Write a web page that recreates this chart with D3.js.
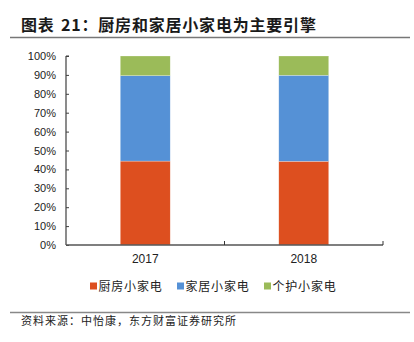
<!DOCTYPE html>
<html>
<head>
<meta charset="utf-8">
<script src="https://cdn.jsdelivr.net/npm/d3@7"></script>
<style>
  html, body { margin: 0; padding: 0; background: #fff; }
  svg { display: block; }
</style>
</head>
<body>
<script>
// Share of small appliance sales by segment
const years = ["2017", "2018"];
const seriesNames = ["厨房小家电", "家居小家电", "个护小家电"];
const kitchen = [44.4, 44.3];
const home = [45.2, 45.5];
const personal = [10.4, 10.2];
const yTicks = [0, 10, 20, 30, 40, 50, 60, 70, 80, 90, 100];
const colors = ["#dd4f1f", "#5591d6", "#9bbb59"];

const W = 414, H = 342;
const svg = d3.select("body").append("svg").attr("width", W).attr("height", H);

// Title and rules
svg.append("text")
  .attr("x", 21).attr("y", 31)
  .attr("font-family", "Noto Sans CJK SC")
  .attr("font-weight", "bold")
  .attr("font-size", 16)
  .attr("letter-spacing", 0.8)
  .attr("word-spacing", 2)
  .attr("fill", "#1a1a1a")
  .text("图表 21：厨房和家居小家电为主要引擎");
svg.append("line").attr("x1", 10).attr("x2", 410).attr("y1", 37.5).attr("y2", 37.5)
  .attr("stroke", "#777").attr("stroke-width", 1.5);

const plot = { left: 66, right: 383, top: 56, bottom: 245 };

const x = d3.scaleBand().domain(years).range([plot.left, plot.right]).paddingInner(0).paddingOuter(0);
const y = d3.scaleLinear().domain([0, 100]).range([plot.bottom, plot.top]);

const rows = years.map((yr, i) => ({ year: yr, k: kitchen[i], h: home[i], p: personal[i] }));
const stacked = d3.stack().keys(["k", "h", "p"])(rows);

const barW = x.bandwidth() * 0.315;
svg.append("g").selectAll("g").data(stacked).join("g")
  .attr("fill", (d, i) => colors[i])
  .selectAll("rect").data(d => d).join("rect")
  .attr("x", d => x(d.data.year) + (x.bandwidth() - barW) / 2)
  .attr("width", barW)
  .attr("y", d => y(d[1]))
  .attr("height", d => y(d[0]) - y(d[1]))
  .attr("stroke", "#ffffff")
  .attr("stroke-opacity", 0.5)
  .attr("stroke-width", 0.5);

// Y axis with inward ticks
const yAxis = d3.axisLeft(y).tickValues(yTicks).tickFormat(d => d + "%").tickSize(-3).tickPadding(10);
const gy = svg.append("g").attr("transform", `translate(${plot.left},0)`).call(yAxis);
gy.select(".domain").attr("stroke", "#404040").attr("stroke-width", 1.2).attr("d", `M0,${plot.top}H3M0,${plot.top}V${plot.bottom}`);
gy.selectAll(".tick line").attr("stroke", "#404040");
gy.selectAll(".tick text").attr("font-family", "Liberation Sans, Arial").attr("font-size", 11).attr("fill", "#222");

// X axis with boundary ticks between categories
const gx = svg.append("g").attr("transform", `translate(0,${plot.bottom})`);
gx.append("line").attr("x1", plot.left).attr("x2", plot.right).attr("stroke", "#555").attr("stroke-width", 1.5);
const bounds = years.map(yr => x(yr) + x.bandwidth());
gx.selectAll("line.b").data(bounds).join("line").attr("class", "b")
  .attr("x1", d => d).attr("x2", d => d).attr("y1", 0).attr("y2", -4)
  .attr("stroke", "#333").attr("stroke-width", 1);
gx.selectAll("text").data(years).join("text")
  .attr("x", d => x(d) + x.bandwidth() / 2)
  .attr("y", 18)
  .attr("text-anchor", "middle")
  .attr("font-family", "Liberation Sans, Arial").attr("font-size", 12).attr("fill", "#222")
  .text(d => d);

// Legend
const legendX = [90, 177, 264];
const lg = svg.append("g").selectAll("g").data(seriesNames).join("g")
  .attr("transform", (d, i) => `translate(${legendX[i]},286)`);
lg.append("rect").attr("x", 0).attr("y", -3.5).attr("width", 7).attr("height", 7).attr("fill", (d, i) => colors[i]);
lg.append("text").attr("x", 8.5).attr("y", 4.5)
  .attr("font-family", "Noto Sans CJK SC").attr("font-size", 12).attr("letter-spacing", 0.8).attr("fill", "#222")
  .text(d => d);

// Source note
svg.append("line").attr("x1", 10).attr("x2", 410).attr("y1", 312.5).attr("y2", 312.5)
  .attr("stroke", "#888").attr("stroke-width", 1.5);
svg.append("text").attr("x", 21).attr("y", 325)
  .attr("font-family", "Noto Sans CJK SC").attr("font-size", 11).attr("letter-spacing", 1)
  .attr("fill", "#222")
  .text("资料来源：中怡康，东方财富证券研究所");
</script>
</body>
</html>
